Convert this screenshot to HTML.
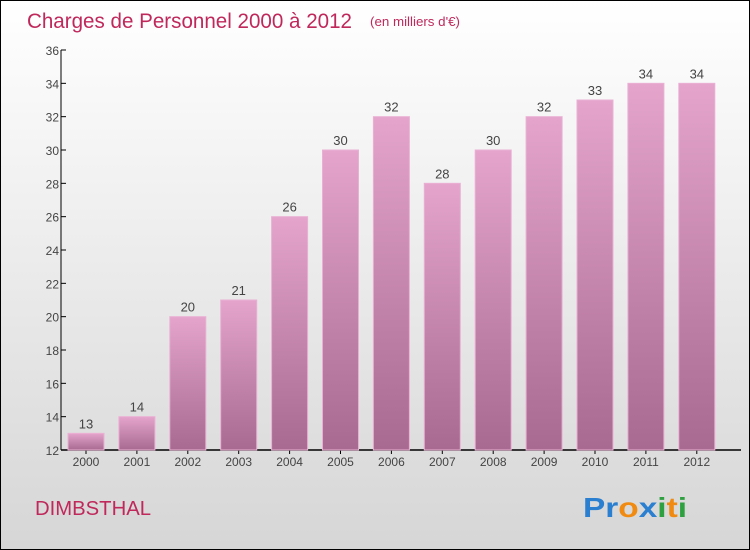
<!DOCTYPE html>
<html><head><meta charset="utf-8"><style>
body{margin:0;}
#wrap{position:relative;width:748px;height:548px;border:1px solid #000;background:linear-gradient(#ffffff,#d6d6d6);overflow:hidden;font-family:"Liberation Sans",sans-serif;}
</style></head><body>
<div id="wrap">
<svg id="chart" width="748" height="548" xmlns="http://www.w3.org/2000/svg">
<defs>
<linearGradient id="bg" x1="0" y1="0" x2="0" y2="1">
<stop offset="0" stop-color="#e4a4cc"/><stop offset="1" stop-color="#a86a90"/>
</linearGradient>
</defs>
<text x="26" y="27" font-size="21" fill="#c0285c" textLength="325" lengthAdjust="spacingAndGlyphs">Charges de Personnel 2000 à 2012</text>
<text x="369" y="25" font-size="13" fill="#c0285c" textLength="90" lengthAdjust="spacingAndGlyphs">(en milliers d'€)</text>
<g id="axes"></g>
<g id="bars"></g>
<text x="34" y="514" font-size="20" fill="#c0285c" textLength="116" lengthAdjust="spacingAndGlyphs">DIMBSTHAL</text>
<text x="582" y="516" font-size="28" font-weight="bold" textLength="104" lengthAdjust="spacingAndGlyphs"><tspan fill="#2a7fd0">Pr</tspan><tspan fill="#f08a10">o</tspan><tspan fill="#2a7fd0">x</tspan><tspan fill="#2ea040">i</tspan><tspan fill="#f08a10">t</tspan><tspan fill="#2ea040">i</tspan></text>
</svg>
</div>
<script>
const categories=["2000","2001","2002","2003","2004","2005","2006","2007","2008","2009","2010","2011","2012"];
const values=[13,14,20,21,26,30,32,28,30,32,33,34,34];
const yTicks=[12,14,16,18,20,22,24,26,28,30,32,34,36];
const NS="http://www.w3.org/2000/svg";
const x0=60,x1=740,yTop=49,yBot=449,yMin=12,yMax=36;
const y=v=>yBot-(v-yMin)/(yMax-yMin)*(yBot-yTop);
const step=50.9, bw=36;
const xc=i=>85+i*step;
function mk(tag,attrs,parent){const e=document.createElementNS(NS,tag);for(const k in attrs)e.setAttribute(k,attrs[k]);parent.appendChild(e);return e;}
const axes=document.getElementById('axes'),bars=document.getElementById('bars');
yTicks.forEach(t=>{
 const l=mk('line',{x1:x0,x2:x0+5,y1:y(t),y2:y(t),stroke:'#000'},axes);
 
 
 const tx=mk('text',{x:x0-2,y:y(t)+5,'text-anchor':'end','font-size':'12',fill:'#444'},axes);
 tx.textContent=t;
 
 
});
const ya=mk('line',{x1:x0,x2:x0,y1:yTop,y2:yBot,stroke:'#000'},axes);


const xa=mk('line',{x1:x0,x2:x1,y1:yBot,y2:yBot,stroke:'#000','stroke-width':1.5},axes);


categories.forEach((c,i)=>{
 const v=values[i];
 const r=mk('rect',{x:xc(i)-bw/2,y:y(v),width:bw,height:yBot-y(v),fill:'url(#bg)',stroke:'#eab0d4','stroke-width':1},bars);
 
 
 const lb=mk('text',{x:xc(i),y:y(v)-5,'text-anchor':'middle','font-size':'13',fill:'#444'},bars);
 lb.textContent=v;
 
 
 const tk=mk('line',{x1:xc(i),x2:xc(i),y1:yBot,y2:yBot+4,stroke:'#000'},axes);
 
 
 const xl=mk('text',{x:xc(i),y:yBot+16,'text-anchor':'middle','font-size':'12',fill:'#444'},axes);
 xl.textContent=c;
 
 
});
</script>
</body></html>
